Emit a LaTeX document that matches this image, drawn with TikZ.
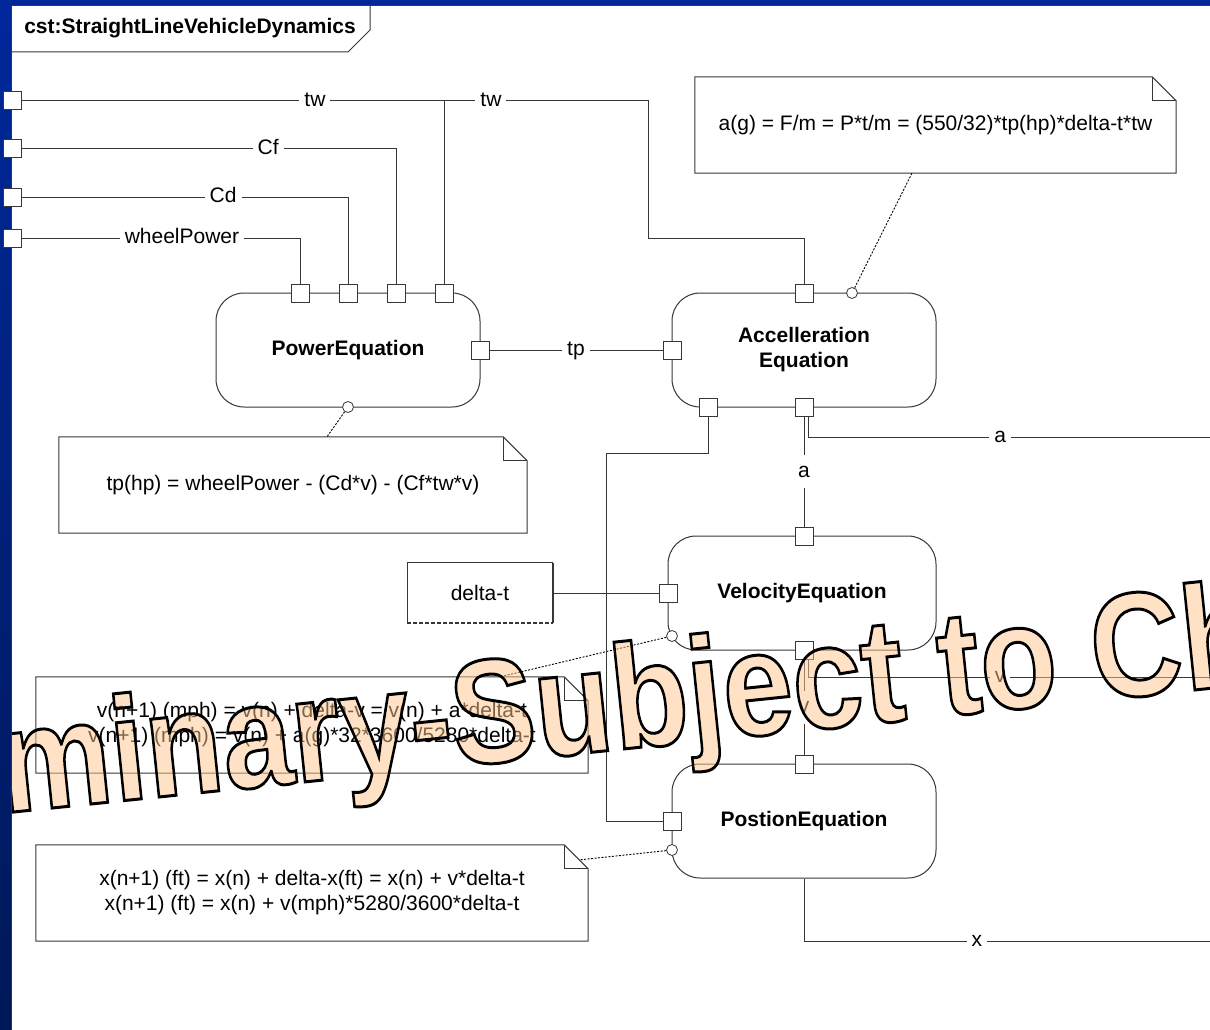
\documentclass[tikz,border=0pt]{standalone}
\usepackage{fontspec}
\setmainfont{Liberation Sans}
\newfontfamily\wmfont{Liberation Sans}[BoldFeatures={FakeBold=2}]
\usetikzlibrary{calc}
\definecolor{linec}{RGB}{55,55,55}
\definecolor{frameblue}{RGB}{0,40,155}
\definecolor{framedark}{RGB}{0,24,88}

\begin{document}
\begin{tikzpicture}[x=1pt,y=-1pt,
  every node/.style={font=\fontsize{21}{25}\selectfont},
  conn/.style={draw=linec, line width=1pt},
  lbl/.style={fill=white, inner xsep=5pt, inner ysep=7pt, text height=15pt, text depth=4pt, text=black},
  portsq/.style={draw=linec, fill=white, line width=1pt, minimum size=18pt, inner sep=0pt, outer sep=0pt},
  block/.style={draw=linec, line width=1pt, rounded corners=28pt, minimum height=114pt, inner sep=0pt,
    font=\fontsize{21}{25}\selectfont\bfseries, align=center},
  anchorcirc/.style={circle, draw=linec, fill=white, line width=0.8pt, minimum size=11pt, inner sep=0pt},
  notebox/.style={minimum height=96pt, inner sep=0pt, align=center},
  noteline/.style={draw=linec, line width=1pt},
  notelink/.style={draw=black, line width=0.9pt, dash pattern=on 2pt off 1.5pt},
]
\useasboundingbox (0,0) rectangle (1210,1030);
\fill[white] (0,0) rectangle (1210,1030);

% frame border and name tab
\draw[linec, line width=1pt] (11.5,1030) -- (11.5,5.5) -- (1210,5.5);
\draw[linec, line width=1pt] (12,52) -- (348,52) -- (370,30) -- (370,5);
\node[font=\fontsize{21}{25}\selectfont\bfseries] (title) at (190,28) {cst:StraightLineVehicleDynamics};

% constraint blocks
\node[block, minimum width=264pt] (power) at (348,350) {PowerEquation};
\node[block, minimum width=264pt] (accel) at (804,350) {Accelleration\\Equation};
\node[block, minimum width=268pt] (velocity) at (802,593) {VelocityEquation};
\node[block, minimum width=264pt] (position) at (804,821) {PostionEquation};

% notes with folded corner
\node[notebox, minimum width=481pt] (nAcc) at (935.5,125) {a(g) = F/m = P*t/m = (550/32)*tp(hp)*delta-t*tw};
\node[notebox, minimum width=468pt] (nPow) at (293,485) {tp(hp) = wheelPower - (Cd*v) - (Cf*tw*v)};
\node[notebox, minimum width=552pt] (nVel) at (312,725) {v(n+1) (mph) = v(n) + delta-v = v(n) + a*delta-t\\v(n+1) (mph) = v(n) + a(g)*32*3600/5280*delta-t};
\node[notebox, minimum width=552pt] (nPos) at (312,893) {x(n+1) (ft) = x(n) + delta-x(ft) = x(n) + v*delta-t\\x(n+1) (ft) = x(n) + v(mph)*5280/3600*delta-t};
\foreach \n in {nAcc,nPow,nVel,nPos} {
  \draw[noteline] (\n.north west) -- ($(\n.north east)+(-24,0)$) -- ($(\n.north east)+(0,24)$)
    -- (\n.south east) -- (\n.south west) -- cycle;
  \draw[noteline] ($(\n.north east)+(-24,0)$) |- ($(\n.north east)+(0,24)$);
}

% delta-t value property
\node[minimum width=145pt, minimum height=60pt, inner sep=0pt] (deltat) at (480,593) {delta-t};
\draw[linec, line width=1pt] (deltat.south west) -- (deltat.north west) -- (deltat.north east);
\draw[linec, line width=1.6pt] (deltat.north east) -- (deltat.south east);
\draw[linec, line width=1.6pt, dash pattern=on 4pt off 2pt] (deltat.south west) -- (deltat.south east);

% ports
\node[portsq] (pwP) at (300,293) {};
\node[portsq] (cdP) at (348,293) {};
\node[portsq] (cfP) at (396,293) {};
\node[portsq] (twP) at (444,293) {};
\node[portsq] (tpOut) at (480,350) {};
\node[portsq] (tpIn) at (672,350) {};
\node[portsq] (twA) at (804,293) {};
\node[portsq] (dtA) at (708,407) {};
\node[portsq] (aOut) at (804,407) {};
\node[portsq] (aIn) at (804,536) {};
\node[portsq] (dtV) at (668,593) {};
\node[portsq] (vOut) at (804,650) {};
\node[portsq] (vIn) at (804,764) {};
\node[portsq] (dtP) at (672,821) {};

% note anchors
\node[anchorcirc] (cPow) at (348,407) {};
\node[anchorcirc] (cAcc) at (852,293) {};
\node[anchorcirc] (cVel) at (672,636) {};
\node[anchorcirc] (cPos) at (672,850) {};

\draw[notelink] (cAcc) -- ([xshift=-23.5pt]nAcc.south);
\draw[notelink] (cPow) -- ([xshift=34pt]nPow.north);
\draw[notelink] (cVel) -- ([xshift=188pt]nVel.north);
\draw[notelink] (cPos) -- ($(nPos.north east)+(-8,15)$);

% boundary ports
\coordinate (fTwC) at (12,101);
\coordinate (fCfC) at (12,149);
\coordinate (fCdC) at (12,197);
\coordinate (fWpC) at (12,238);
\coordinate (twJoin) at (444,101);
\coordinate (aEdge) at (1210,437);
\coordinate (vEdge) at (1210,677);
\coordinate (xEdge) at (1210,941);

% connectors
\draw[conn] ([xshift=9pt]fTwC) -- node[lbl, pos=0.695] {tw} (twJoin) -- (twP);
\draw[conn] (twJoin) -- node[lbl, pos=0.23] {tw} (648,101) -- (648,238) -| (twA);
\draw[conn] ([xshift=9pt]fCfC) -- node[lbl, pos=0.659] {Cf} (fCfC -| cfP) -- (cfP);
\draw[conn] ([xshift=9pt]fCdC) -- node[lbl, pos=0.618] {Cd} (fCdC -| cdP) -- (cdP);
\draw[conn] ([xshift=9pt]fWpC) -- node[lbl, pos=0.577] {wheelPower} (fWpC -| pwP) -- (pwP);
\draw[conn] (tpOut) -- node[lbl] {tp} (tpIn);
\draw[conn] (dtA) |- (606,453) |- (dtP);
\draw[conn] (aOut) -- node[lbl] {a} (aIn);
\draw[conn] ([xshift=4pt]aOut.south) |- node[lbl, pos=0.739] {a} (aEdge);
\draw[conn] (deltat) -- (dtV);
\draw[conn] (vOut) -- node[lbl] {v} (vIn);
\draw[conn] ([xshift=4pt]vOut.south) |- node[lbl, pos=0.739] {v} (vEdge);
\draw[conn] (position.south) |- node[lbl, pos=0.713] {x} (xEdge);

% redraw ports over connector ends
\foreach \p in {pwP,cdP,cfP,twP,tpOut,tpIn,twA,dtA,aOut,aIn,dtV,vOut,vIn,dtP}
  \draw[linec, line width=1pt, fill=white] (\p.north west) rectangle (\p.south east);

% watermark
\begin{scope}
  \clip (12,5) rectangle (1210,1030);
  \node[anchor=base west, rotate=5.9, inner sep=0pt, outer sep=0pt, fill opacity=0.5] (wm) at (-267,841)
    {\wmfont\bfseries\fontsize{148}{150}\selectfont\special{pdf:bcolor [1 0.78 0.55] [0 0 0]}\scalebox{0.85}[1]{Preliminary-Subject to Change}\special{pdf:ecolor}};
\end{scope}

% blue slide border
\fill[frameblue] (0,0) rectangle (1210,5);
\shade[top color=frameblue, bottom color=framedark] (0,0) rectangle (11,1030);

% boundary port squares
\node[portsq] (fTw) at (fTwC) {};
\node[portsq] (fCf) at (fCfC) {};
\node[portsq] (fCd) at (fCdC) {};
\node[portsq] (fWp) at (fWpC) {};
\end{tikzpicture}
\end{document}
